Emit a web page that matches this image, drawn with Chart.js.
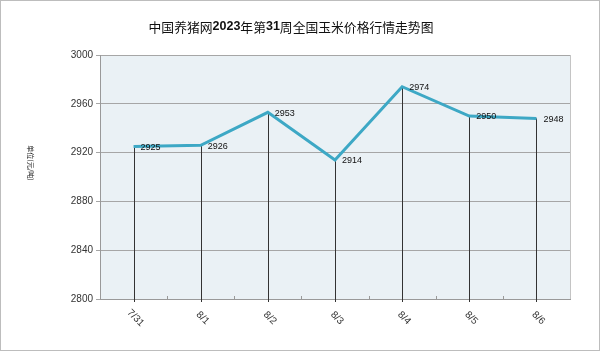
<!DOCTYPE html>
<html>
<head>
<meta charset="utf-8">
<script src="https://cdn.jsdelivr.net/npm/chart.js@4"></script>
<style>
html,body{margin:0;padding:0;background:#fff;}
#wrap{width:600px;height:351px;}
</style>
</head>
<body>
<div id="wrap"><canvas id="c" width="600" height="351"></canvas></div>
<script>
const categories = ["7/31", "8/1", "8/2", "8/3", "8/4", "8/5", "8/6"];
const prices = [2925, 2926, 2953, 2914, 2974, 2950, 2948];
const yTicks = [2800, 2840, 2880, 2920, 2960, 3000];
const titleParts = [["中国养猪网", false], ["2023", true], ["年第", false], ["31", true], ["周全国玉米价格行情走势图", false]];
const yTitle = "单位(元/吨)";

const cjk = '"Noto Sans CJK SC", sans-serif';
const latin = '"Liberation Sans", Arial, sans-serif';

const decor = {
  id: 'decor',
  beforeDraw(chart) {
    const ctx = chart.ctx, a = chart.chartArea;
    ctx.save();
    ctx.fillStyle = '#ffffff';
    ctx.fillRect(0, 0, chart.width, chart.height);
    ctx.fillStyle = '#eaf1f5';
    ctx.fillRect(a.left, a.top, a.right - a.left, a.bottom - a.top);
    ctx.strokeStyle = '#c4c4c4';
    ctx.lineWidth = 1;
    ctx.beginPath();
    ctx.moveTo(a.right + 0.5, a.top);
    ctx.lineTo(a.right + 0.5, a.bottom + 1);
    ctx.stroke();
    ctx.restore();
  },
  beforeDatasetsDraw(chart) {
    const ctx = chart.ctx, a = chart.chartArea;
    const x = chart.scales.x, y = chart.scales.y;
    ctx.save();
    ctx.strokeStyle = '#333333';
    ctx.lineWidth = 1;
    prices.forEach((v, i) => {
      const px = Math.round(x.getPixelForValue(i)) + 0.5;
      ctx.beginPath();
      ctx.moveTo(px, y.getPixelForValue(v));
      ctx.lineTo(px, a.bottom + 3);
      ctx.stroke();
    });
    ctx.strokeStyle = '#999999';
    for (let i = 0; i + 1 < categories.length; i++) {
      const px = Math.round((x.getPixelForValue(i) + x.getPixelForValue(i + 1)) / 2) + 0.5;
      ctx.beginPath();
      ctx.moveTo(px, a.bottom);
      ctx.lineTo(px, a.bottom - 3);
      ctx.stroke();
    }
    ctx.restore();
  },
  afterDatasetsDraw(chart) {
    const ctx = chart.ctx, a = chart.chartArea;
    const x = chart.scales.x, y = chart.scales.y;
    ctx.save();
    ctx.fillStyle = '#111111';
    ctx.font = '9px ' + latin;
    ctx.textAlign = 'left';
    ctx.textBaseline = 'middle';
    prices.forEach((v, i) => {
      ctx.fillText(String(v), x.getPixelForValue(i) + 7, y.getPixelForValue(v) + 1);
    });
    ctx.fillStyle = '#333333';
    ctx.font = '10px ' + latin;
    ctx.textAlign = 'center';
    categories.forEach((c, i) => {
      ctx.save();
      ctx.translate(x.getPixelForValue(i) + 2, a.bottom + 19);
      ctx.rotate(Math.PI / 4);
      ctx.fillText(c, 0, 0);
      ctx.restore();
    });
    ctx.save();
    ctx.font = '7px ' + cjk;
    ctx.fillStyle = '#222222';
    ctx.textAlign = 'center';
    ctx.textBaseline = 'middle';
    ctx.translate(31, 163);
    ctx.rotate(Math.PI / 2);
    ctx.fillText(yTitle, 0, 0);
    ctx.restore();
    ctx.textBaseline = 'middle';
    ctx.textAlign = 'left';
    ctx.fillStyle = '#111111';
    const fonts = titleParts.map(p => p[1] ? 'bold 12.5px ' + latin : '12.8px ' + cjk);
    let total = 0;
    titleParts.forEach((p, i) => { ctx.font = fonts[i]; total += ctx.measureText(p[0]).width; });
    let tx = 291 - total / 2;
    titleParts.forEach((p, i) => {
      ctx.font = fonts[i];
      ctx.fillText(p[0], tx, 27);
      tx += ctx.measureText(p[0]).width;
    });
    ctx.strokeStyle = '#bdbdbd';
    ctx.lineWidth = 2;
    ctx.strokeRect(0, 0, chart.width, chart.height);
    ctx.restore();
  }
};

new Chart(document.getElementById('c'), {
  type: 'line',
  data: {
    labels: categories,
    datasets: [{
      data: prices,
      borderColor: '#3da8c5',
      borderWidth: 3,
      pointRadius: 0,
      tension: 0,
      fill: false
    }]
  },
  options: {
    responsive: false,
    animation: false,
    devicePixelRatio: 1,
    layout: { padding: { top: 55, right: 30, bottom: 52, left: 0 } },
    plugins: { legend: { display: false }, title: { display: false }, tooltip: { enabled: false } },
    scales: {
      x: {
        offset: true,
        grid: { display: false, drawTicks: false },
        border: { display: true, color: '#999999', width: 1 },
        ticks: { display: false },
        afterFit(s) { s.height = 0; }
      },
      y: {
        min: 2800,
        max: 3000,
        afterBuildTicks(s) { s.ticks = yTicks.map(v => ({ value: v })); },
        grid: { color: '#a6a6a6', lineWidth: 1, drawTicks: true, tickLength: 4 },
        border: { display: true, color: '#999999', width: 1 },
        ticks: { color: '#333333', font: { family: latin, size: 10 }, padding: 3, callback: (v) => String(v) },
        afterFit(s) { s.width = 100; }
      }
    }
  },
  plugins: [decor]
});
</script>
</body>
</html>
